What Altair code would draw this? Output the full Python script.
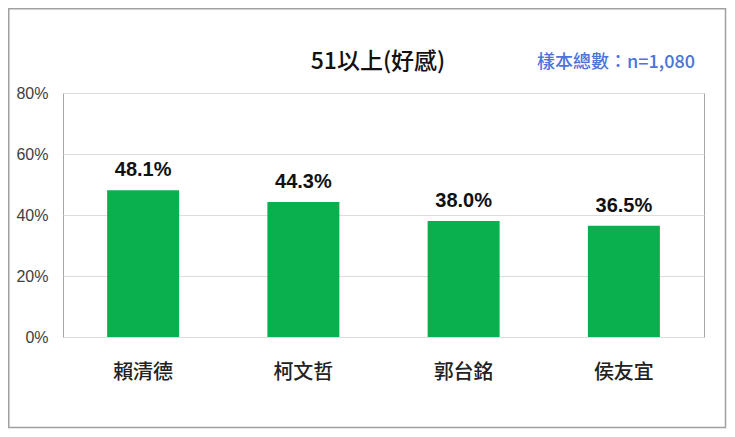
import altair as alt
import pandas as pd

# Data
candidates = ["賴清德", "柯文哲", "郭台銘", "侯友宜"]
favorability = [48.1, 44.3, 38.0, 36.5]
y_ticks = [0, 20, 40, 60, 80]
title_text = "51以上(好感)"
sample_text = "樣本總數：n=1,080"

df = pd.DataFrame({"name": candidates, "value": favorability})
one = pd.DataFrame({"t": [title_text], "s": [sample_text]})

W, H = 641, 244
PL, PT, PR, PB = 55, 85, 23, 92

x_enc = alt.X("name:N", sort=candidates, title=None,
              scale=alt.Scale(paddingInner=0.55, paddingOuter=0.275),
              axis=alt.Axis(labelAngle=0, labelFontSize=20, labelFont="Noto Sans CJK TC",
                            labelFontWeight=500, labelColor="#222222", labelPadding=25,
                            ticks=False, domain=False, grid=False))
y_enc = alt.Y("value:Q", title=None,
              scale=alt.Scale(domain=[0, 80], nice=False),
              axis=alt.Axis(values=y_ticks, labelExpr="datum.value + '%'",
                            labelFontSize=16, labelFont="Liberation Sans", labelColor="#404040",
                            labelPadding=15, ticks=False, domain=False,
                            grid=True, gridColor="#dcdcdc", gridWidth=1))

frame = alt.Chart(one).mark_rect(fillOpacity=0, stroke="#a0a0a0", strokeWidth=1.5).encode(
    x=alt.value(-PL + 0.75), x2=alt.value(W + PR - 1.5),
    y=alt.value(-PT + 0.75), y2=alt.value(H + PB - 1.5),
)

bars = alt.Chart(df).mark_bar(color="#0AB04E", size=72).encode(x=x_enc, y=y_enc)

labels = alt.Chart(df).transform_calculate(
    lbl="format(datum.value, '.1f') + '%'"
).mark_text(baseline="bottom", dy=-10, fontSize=20, fontWeight="bold",
            font="Liberation Sans", color="#111111").encode(
    x=alt.X("name:N", sort=candidates), y=alt.Y("value:Q"), text="lbl:N")

title = alt.Chart(one).mark_text(fontSize=23, font="Noto Sans CJK TC", fontWeight=500,
                                 color="#111111", baseline="middle", align="center").encode(
    x=alt.value(315), y=alt.value(-31), text="t:N")

sample = alt.Chart(one).mark_text(fontSize=18, font="Noto Sans CJK TC", fontWeight=500,
                                  color="#4a74d8", baseline="middle", align="right").encode(
    x=alt.value(632), y=alt.value(-30), text="s:N")

chart = alt.layer(frame, bars, labels, title, sample).properties(
    width=W, height=H,
    autosize=alt.AutoSizeParams(type="none"),
    padding={"left": PL, "top": PT, "right": PR, "bottom": PB},
    background="white",
).configure_view(stroke="#a6a6a6", strokeWidth=1)

chart.save("out.html", embed_options={"renderer": "svg", "actions": False})
